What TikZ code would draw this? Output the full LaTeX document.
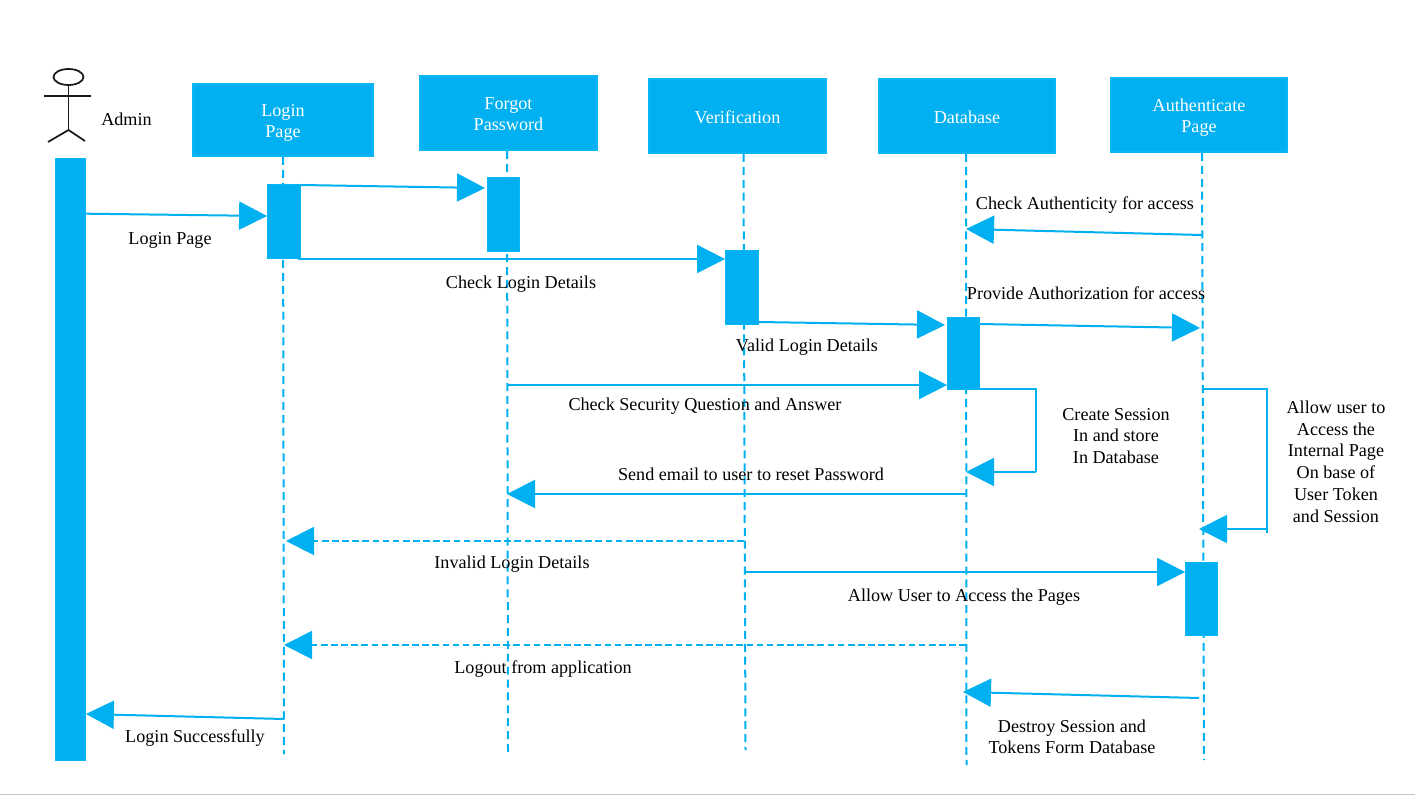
\documentclass[tikz,border=0pt]{standalone}
\usepackage{fontspec}
\setmainfont{Liberation Serif}
\usetikzlibrary{arrows.meta,shapes.geometric}
\definecolor{seqblue}{HTML}{00B0F0}
\definecolor{seqedge}{HTML}{0BB6F6}
\tikzset{
  x=0.75pt,y=-0.75pt,
  headbox/.style={fill=seqblue,draw=seqedge,line width=2pt,inner sep=0pt},
  headtext/.style={inner sep=0pt,align=center,text=white,font=\fontsize{13.6}{15.9}\selectfont},
  barbox/.style={fill=seqblue,draw=seqedge,line width=0.6pt,inner sep=0pt},
  life/.style={draw=seqblue,line width=1.5pt,dash pattern=on 6pt off 3.668pt},
  msg/.style={draw=seqblue,line width=1.5pt,-{Triangle[length=21pt,width=21pt,fill=seqblue]}},
  dmsg/.style={msg,dash pattern=on 5pt off 2.6pt},
  bare/.style={draw=seqblue,line width=1.5pt},
  lab/.style={inner sep=0pt,align=center,text=black,font=\fontsize{13.6}{15.9}\selectfont},
  stick/.style={draw=black!90,line width=1.3pt}
}
\newcommand{\boxat}[5]{\node[#1,minimum width=#4*0.75pt,minimum height=#5*0.75pt] (#2) at (#3) {};}
\begin{document}
\begin{tikzpicture}
\useasboundingbox (0,0) rectangle (1415,795);
\fill[white] (0,0) rectangle (1415,795);
\coordinate (rulea) at (0,794.5);
\coordinate (ruleb) at (1415,794.5);
\draw[black!22,line width=0.9pt] (rulea) -- (ruleb);

% actor
\node[draw=black!90,line width=1.3pt,ellipse,minimum width=30*0.75pt,minimum height=16*0.75pt,inner sep=0pt] (head) at (68.5,77) {};
\coordinate (neck) at (head.south);
\coordinate (hip) at (68.5,130);
\coordinate (arml) at (44,96);
\coordinate (armr) at (91,96);
\coordinate (legl) at (48,142);
\coordinate (legr) at (85,141);
\draw[stick] (neck) -- (hip);
\draw[stick] (arml) -- (armr);
\draw[stick] (legl) -- (hip) -- (legr);
\node[lab] (adminlab) at (126.5,119) {Admin};

% lifeline ends
\coordinate (lta) at (283,157);  \coordinate (lba) at (284,754);
\coordinate (ltb) at (507,151);  \coordinate (lbb) at (508,752);
\coordinate (ltc) at (743.5,154);\coordinate (lbc) at (745.5,750);
\coordinate (ltd) at (966,154);  \coordinate (lbd) at (966.5,765);
\coordinate (lte) at (1202,153); \coordinate (lbe) at (1204,760);
\draw[life] (lta) -- (lba);
\draw[life] (ltb) -- (lbb);
\draw[life] (ltc) -- (lbc);
\draw[life] (ltd) -- (lbd);
\draw[life] (lte) -- (lbe);

% heads
\boxat{headbox}{login}{283,120}{180}{72}
\boxat{headbox}{forgot}{508.5,113}{177}{74}
\boxat{headbox}{verif}{737.5,116}{177}{74}
\boxat{headbox}{datab}{967,116}{176}{74}
\boxat{headbox}{auth}{1199,115}{176}{74}
\node[headtext] (tlogin) at (283,123) {Login\\Page};
\node[headtext] (tforgot) at (508.5,114.5) {Forgot\\Password};
\node[headtext] (tverif) at (737.5,117) {Verification};
\node[headtext] (tdatab) at (967,117) {Database};
\node[headtext] (tauth) at (1199,117.5) {Authenticate\\Page};

% bars
\boxat{barbox}{adminbar}{70.5,459.5}{30}{602}
\boxat{barbox}{alogin}{284,221.5}{33}{74}
\boxat{barbox}{aforgot}{503.5,214.5}{32}{74}
\boxat{barbox}{averif}{742,287.5}{33}{74}
\boxat{barbox}{adatab}{963.5,353.5}{32}{72}
\boxat{barbox}{aauth}{1201.5,599}{32}{73}

% messages
\draw[msg] (adminbar.east |- 0,213.7) -- (alogin.west |- 0,216);
\draw[msg] (alogin.east |- 0,185) -- (485,188);
\draw[msg] (298,259) -- (averif.west |- 0,259);
\draw[msg] (averif.east |- 0,322) -- (945,325);
\draw[msg] (adatab.east |- 0,324) -- (1200,328);
\draw[msg] (ltb |- 0,385) -- (adatab.west |- 0,385);
\draw[msg] (lte |- 0,235) -- (ltd |- 0,229);
\draw[bare] (adatab.east |- 0,389) -- (1036,389) -- (1036,472);
\draw[msg] (1036,472) -- (ltd |- 0,472);
\draw[bare] (1203,389) -- (1267,389) -- (1267,533);
\draw[msg] (1267,529) -- (1199,529);
\draw[msg] (ltd |- 0,494) -- (ltb |- 0,494);
\draw[dmsg] (744,541) -- (286,541);
\draw[msg] (745,572) -- (aauth.west |- 0,572);
\draw[dmsg] (ltd |- 0,645) -- (284,645);
\draw[msg] (1199,698) -- (963,692);
\draw[msg] (284,719) -- (adminbar.east |- 0,714);

% labels
\node[lab] (t1) at (170,240) {Login Page};
\node[lab] (t2) at (521,284) {Check Login Details};
\node[lab] (t3) at (1085,205) {Check Authenticity for access};
\node[lab] (t4) at (1086,293) {Provide Authorization for access};
\node[lab] (t5) at (807,347) {Valid Login Details};
\node[lab] (t6) at (705,406) {Check Security Question and Answer};
\node[lab] (t7) at (1116,436) {Create Session\\In and store\\In Database};
\node[lab,font=\fontsize{13.6}{16.35}\selectfont] (t8) at (1336,461.5) {Allow user to\\Access the\\Internal Page\\On base of\\User Token\\and Session};
\node[lab] (t9) at (751,474) {Send email to user to reset Password};
\node[lab] (t10) at (512,564) {Invalid Login Details};
\node[lab] (t11) at (964,597) {Allow User to Access the Pages};
\node[lab] (t12) at (543,669) {Logout from application};
\node[lab] (t13) at (195,738) {Login Successfully};
\node[lab] (t14) at (1072,737) {Destroy Session and\\Tokens Form Database};
\end{tikzpicture}
\end{document}
